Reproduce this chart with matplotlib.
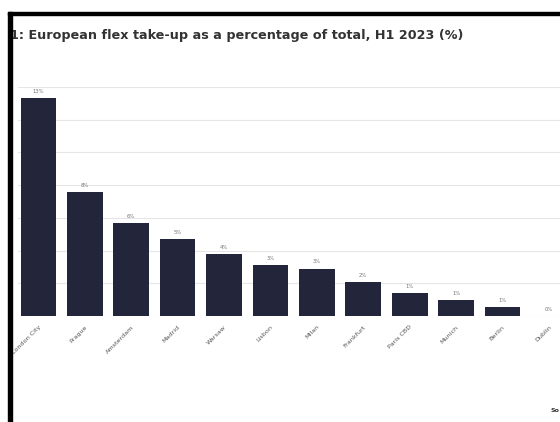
import matplotlib
matplotlib.use("Agg")
import matplotlib.pyplot as plt
from matplotlib.patches import Rectangle

cities = ["London City", "Prague", "Amsterdam", "Madrid", "Warsaw", "Lisbon",
          "Milan", "Frankfurt", "Paris CBD", "Munich", "Berlin", "Dublin"]
values = [13.3, 7.6, 5.7, 4.7, 3.8, 3.1, 2.9, 2.1, 1.4, 1.0, 0.55, 0.0]
value_labels = ["13%", "8%", "6%", "5%", "4%", "3%", "3%", "2%", "1%", "1%", "1%", "0%"]
title = "1: European flex take-up as a percentage of total, H1 2023 (%)"

W, H = 560, 422
fig = plt.figure(figsize=(W / 100, H / 100), dpi=100)
fig.patch.set_facecolor("white")

ax_left, ax_right = 18 / W, 560 / W
ax_bottom, ax_top = (H - 316) / H, (H - 87) / H
ax = fig.add_axes([ax_left, ax_bottom, ax_right - ax_left, ax_top - ax_bottom])

x = list(range(len(cities)))
ax.bar(x, values, width=0.77, color="#23253b", zorder=3)
for xi, v, lab in zip(x, values, value_labels):
    ax.text(xi, v + 0.25, lab, ha="center", va="bottom", fontsize=3.8, color="#777777")

ax.set_xlim(-0.44, 11.24)
ax.set_ylim(0, 14)
ax.set_yticks([0, 2, 4, 6, 8, 10, 12, 14])
ax.yaxis.grid(True, color="#e6e6e6", linewidth=0.8, zorder=0)
ax.tick_params(axis="y", left=False, labelleft=False)
ax.set_xticks(x)
ax.set_xticklabels(cities, rotation=45, ha="right", va="top", rotation_mode="anchor",
                   fontsize=4.6, color="#555555")
ax.tick_params(axis="x", length=0, pad=6)
for s in ax.spines.values():
    s.set_visible(False)

fig.text(10 / W, 1 - 36 / H, title, fontsize=9.2, fontweight="bold", color="#333333",
         ha="left", va="center")
fig.text(559 / W, 1 - 410 / H, "So", fontsize=4.5, fontweight="bold", color="#333333",
         ha="right", va="center")

# black frame (left and top)
fig.add_artist(Rectangle((8 / W, 0), 4 / W, 1 - 12 / H, transform=fig.transFigure,
                         color="black", zorder=10))
fig.add_artist(Rectangle((8 / W, 1 - 15 / H), 1, 3 / H, transform=fig.transFigure,
                         color="black", zorder=10))

fig.savefig("out.png", dpi=100, facecolor="white")
